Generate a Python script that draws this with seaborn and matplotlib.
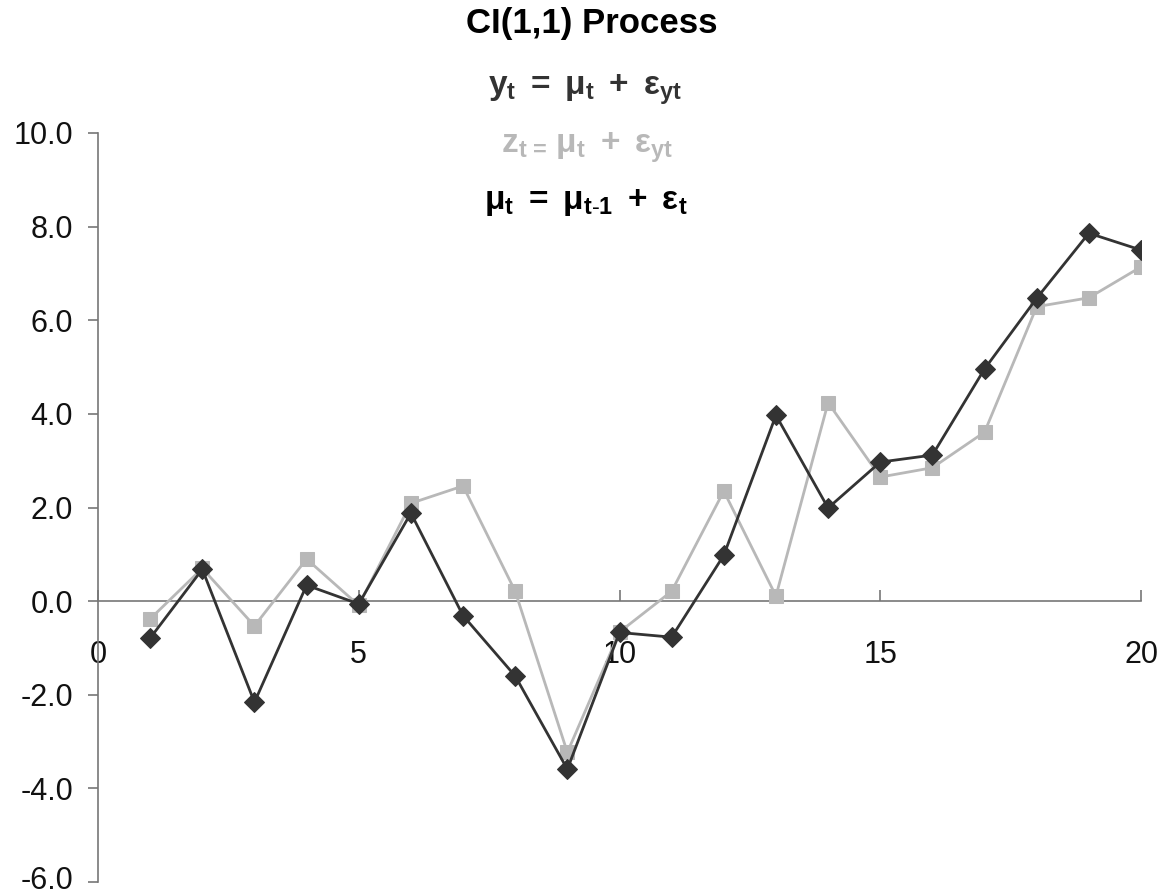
import numpy as np
import pandas as pd
import seaborn as sns
import matplotlib
matplotlib.use("Agg")
import matplotlib.pyplot as plt
from matplotlib.transforms import ScaledTranslation

# Time index and the two cointegrated series
t = list(range(1, 21))
y_series = [-0.79, 0.68, -2.16, 0.34, -0.06, 1.88, -0.31, -1.60, -3.59, -0.67,
            -0.77, 0.98, 3.97, 1.99, 2.97, 3.12, 4.96, 6.47, 7.86, 7.50]
z_series = [-0.38, 0.70, -0.53, 0.90, -0.09, 2.09, 2.46, 0.21, -3.23, -0.66,
            0.21, 2.35, 0.11, 4.24, 2.65, 2.85, 3.61, 6.29, 6.48, 7.14]

y_ticks = [-6, -4, -2, 0, 2, 4, 6, 8, 10]
x_ticks = [0, 5, 10, 15, 20]

title = "CI(1,1) Process"
eq_y = r"$\mathbf{y_t\ =\ μ_t\ +\ ε_{yt}}$"
eq_z = r"$\mathbf{z_{t\,=}\,μ_t\ +\ ε_{yt}}$"
eq_mu = r"$\mathbf{μ_t\ =\ μ_{t\text{-}1}\ +\ ε_t}$"

sns.set_theme(style="white")
plt.rcParams["font.family"] = ["Liberation Sans", "DejaVu Sans"]
plt.rcParams["mathtext.fontset"] = "custom"
plt.rcParams["mathtext.rm"] = "Liberation Sans"
plt.rcParams["mathtext.it"] = "Liberation Sans"
plt.rcParams["mathtext.bf"] = "Liberation Sans:bold"

df = pd.DataFrame({"t": t, "y": y_series, "z": z_series})

fig = plt.figure(figsize=(11.67, 8.96), dpi=100)
ax = fig.add_axes([98 / 1167, 14 / 896, (1141 - 98) / 1167, (882 - 133) / 896])

dark = "#333333"
light = "#b8b8b8"

sns.lineplot(data=df, x="t", y="z", ax=ax, color=light, lw=2.0, marker="s",
             markersize=10, markeredgecolor=light, markerfacecolor=light, zorder=3)
sns.lineplot(data=df, x="t", y="y", ax=ax, color=dark, lw=2.0, marker="D",
             markersize=10, markeredgecolor=dark, markerfacecolor=dark, zorder=4)

ax.set_xlim(0, 20)
ax.set_ylim(-6, 10)
ax.set_xticks(x_ticks)
ax.set_yticks(y_ticks)
ax.set_yticklabels([f"{v:.1f}" for v in y_ticks])
ax.set_xlabel("")
ax.set_ylabel("")

for s in ["top", "right"]:
    ax.spines[s].set_visible(False)
ax.spines["bottom"].set_position(("data", 0))
ax.spines["bottom"].set_color("#777777")
ax.spines["left"].set_color("#777777")
ax.spines["bottom"].set_linewidth(1.2)
ax.spines["left"].set_linewidth(1.2)

ax.tick_params(axis="y", direction="out", length=7, width=1.2, color="#777777",
               labelsize=22, labelcolor="#111111", pad=11, left=True)
ax.tick_params(axis="x", direction="in", length=8, width=1.2, color="#777777",
               labelsize=22, labelcolor="#111111", pad=28, bottom=True)
# nudge the lowest label up a little so it stays inside the canvas
lowest = ax.get_yticklabels()[0]
lowest.set_transform(lowest.get_transform() + ScaledTranslation(0, 3 / 72, fig.dpi_scale_trans))

fig.text(592 / 1167, 1 - 24 / 896, title, ha="center", va="center",
         fontsize=25, fontweight="bold", color="black")
fig.text(585 / 1167, 1 - 90 / 896, eq_y, ha="center", va="center",
         fontsize=24, color=dark)
fig.text(587 / 1167, 1 - 148 / 896, eq_z, ha="center", va="center",
         fontsize=24, color=light)
fig.text(586 / 1167, 1 - 203 / 896, eq_mu, ha="center", va="center",
         fontsize=24, color="black")

fig.savefig("out.png", dpi=100)
